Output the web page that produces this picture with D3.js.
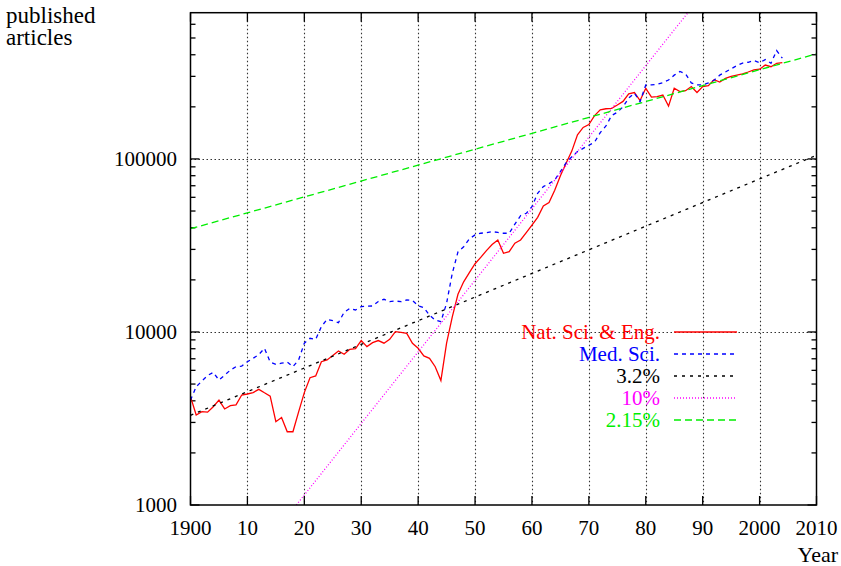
<!DOCTYPE html>
<html>
<head>
<meta charset="utf-8">
<script src="https://cdn.jsdelivr.net/npm/d3@7"></script>
<style>
  body { margin: 0; background: #fff; }
</style>
</head>
<body>
<div id="chart"></div>
<script>
// yearly counts
var years = d3.range(1900, 2005)
var natSci = [4230, 3310, 3460, 3440, 3700, 4040, 3590, 3750, 3790, 4320,
  4380, 4460, 4660, 4450, 4260, 3030, 3200, 2650, 2650, 3450,
  4460, 5440, 5570, 6730, 6890, 7300, 7770, 7430, 7940, 8010,
  8920, 8230, 8670, 8920, 8610, 9070, 10050, 9950, 9820, 8610,
  8050, 7270, 7040, 6300, 5240, 8610, 12240, 16500, 19500, 22000,
  24800, 27000, 29500, 32000, 34000, 28500, 29100, 32600, 34000, 37500,
  41500, 46000, 53500, 56000, 66000, 80000, 94500, 111000, 138000, 152000,
  158000, 178000, 192000, 195000, 196000, 205000, 215000, 238000, 242000, 217500,
  256000, 227500, 229000, 234000, 202000, 256000, 245000, 248000, 262000, 242000,
  262000, 265000, 287000, 278000, 292000, 300000, 305000, 310000, 318000, 327000,
  330000, 349000, 341000, 357000, 360000]
var medSci = [4040, 4830, 5200, 5600, 5840, 5280, 5630, 6020, 6300, 6350,
  6730, 7040, 7400, 8050, 6700, 6500, 6600, 6700, 6300, 6890,
  8610, 9190, 9070, 10740, 11840, 11620, 11320, 13000, 13700, 13400,
  14000, 14100, 14130, 15000, 15450, 14960, 15100, 14960, 15300, 15200,
  14200, 13800, 12500, 11720, 11470, 14660, 21830, 29000, 31100, 34500,
  36400, 37200, 37500, 38000, 37600, 37200, 37200, 42000, 47000, 48500,
  53000, 63300, 69200, 72000, 75600, 84500, 95000, 103000, 110200, 115000,
  120000, 125000, 142000, 155000, 178000, 186000, 200000, 225000, 240000, 214000,
  267800, 267800, 270000, 276000, 286000, 305000, 320000, 310000, 275000, 268000,
  268000, 275000, 285000, 305000, 318000, 332000, 346000, 358000, 362000, 370000,
  360000, 375000, 357000, 423000, 382000]

// growth reference lines, end points [year, count]
var trend32  = [[1900, 3300], [2010, 105000]]
var trend10  = [[1918.6, 1000], [1987.4, 700000]]
var trend215 = [[1900, 39500], [2010, 405000]]

var xTicks     = d3.range(1900, 2011, 10)
var xTickNames = ['1900', '10', '20', '30', '40', '50', '60', '70', '80', '90', '2000', '2010']
var yTicks     = [1000, 10000, 100000]
var yMinor     = [2000, 3000, 4000, 5000, 6000, 7000, 8000, 9000,
                  20000, 30000, 40000, 50000, 60000, 70000, 80000, 90000,
                  200000, 300000, 400000, 500000, 600000]

var legendNames  = ['Nat. Sci. & Eng.', 'Med. Sci.', '3.2%', '10%', '2.15%']
var legendColors = ['#ff0000', '#0000ff', '#000000', '#ff00ff', '#00ee00']
var legendDash   = [null, '4,4', '3,5', '1,2', '7,4']

var W = 841, H = 566
var pLeft = 190.5, pRight = 816.5, pTop = 12.7, pBottom = 505

var svg = d3.select('#chart').append('svg').attr('width', W).attr('height', H)

var x = d3.scaleLinear().domain([1900, 2010]).range([pLeft, pRight])
var y = d3.scaleLog().domain([1000, 700000]).range([pBottom, pTop])

// every text in the serif face
function label(sel, px) {
  return sel.style('font-family', 'Liberation Serif').style('font-size', px + 'px')
}

svg.append('clipPath').attr('id', 'clip')
  .append('rect').attr('x', pLeft).attr('y', pTop).attr('width', pRight - pLeft).attr('height', pBottom - pTop)

// grid
var grid = svg.append('g').attr('stroke', '#333').attr('stroke-width', 1.1).attr('stroke-dasharray', '1.5,2.5')
grid.selectAll('.gx').data(xTicks.slice(1, -1)).enter().append('line')
  .attr('x1', d => Math.round(x(d)) + 0.5).attr('x2', d => Math.round(x(d)) + 0.5)
  .attr('y1', pTop).attr('y2', pBottom)
grid.selectAll('.gy').data(yTicks.slice(1)).enter().append('line')
  .attr('x1', pLeft).attr('x2', pRight)
  .attr('y1', d => Math.round(y(d)) + 0.5).attr('y2', d => Math.round(y(d)) + 0.5)

// ticks on all four sides
var ticks = svg.append('g').attr('stroke', '#000').attr('stroke-width', 1.3)
xTicks.forEach(function(t) {
  ticks.append('line').attr('x1', x(t)).attr('x2', x(t)).attr('y1', pBottom).attr('y2', pBottom - 9)
  ticks.append('line').attr('x1', x(t)).attr('x2', x(t)).attr('y1', pTop).attr('y2', pTop + 9)
})
yTicks.forEach(function(t) {
  ticks.append('line').attr('x1', pLeft).attr('x2', pLeft + 9).attr('y1', y(t)).attr('y2', y(t))
  ticks.append('line').attr('x1', pRight).attr('x2', pRight - 9).attr('y1', y(t)).attr('y2', y(t))
})
yMinor.forEach(function(t) {
  ticks.append('line').attr('x1', pLeft).attr('x2', pLeft + 5).attr('y1', y(t)).attr('y2', y(t))
  ticks.append('line').attr('x1', pRight).attr('x2', pRight - 5).attr('y1', y(t)).attr('y2', y(t))
})

// tick labels
label(svg.append('g').selectAll('text').data(xTicks).enter().append('text')
  .attr('x', d => x(d)).attr('y', 535).attr('text-anchor', 'middle'), 21)
  .text((d, i) => xTickNames[i])
label(svg.append('g').selectAll('text').data(yTicks).enter().append('text')
  .attr('x', 177).attr('y', d => y(d) + 7).attr('text-anchor', 'end'), 21)
  .text(d => d)

label(svg.append('text').attr('x', 838).attr('y', 562).attr('text-anchor', 'end'), 22).text('Year')
label(svg.append('text').attr('x', 6).attr('y', 23), 23).text('published')
label(svg.append('text').attr('x', 6).attr('y', 45), 23).text('articles')

// curves
var plot = svg.append('g').attr('clip-path', 'url(#clip)').attr('fill', 'none')
var line = d3.line().x(d => x(d[0])).y(d => y(d[1]))

var series = [
  years.map((yr, i) => [yr, natSci[i]]),
  years.map((yr, i) => [yr, medSci[i]]),
  trend32, trend10, trend215
]
series.forEach(function(s, i) {
  plot.append('path').datum(s)
    .attr('d', line)
    .attr('stroke', legendColors[i])
    .attr('stroke-width', 1.3)
    .attr('stroke-dasharray', legendDash[i])
})

// frame
svg.append('rect').attr('x', pLeft).attr('y', pTop).attr('width', pRight - pLeft).attr('height', pBottom - pTop)
  .attr('fill', 'none').attr('stroke', '#000').attr('stroke-width', 1.5)

// legend
var legend = svg.append('g')
legendNames.forEach(function(name, i) {
  var ly = 332 + i * 22
  label(legend.append('text').attr('x', 660).attr('y', ly + 7).attr('text-anchor', 'end')
    .attr('fill', legendColors[i]), 21).text(name)
  legend.append('line').attr('x1', 674).attr('x2', 737).attr('y1', ly).attr('y2', ly)
    .attr('stroke', legendColors[i]).attr('stroke-width', 1.3)
    .attr('stroke-dasharray', legendDash[i])
})
</script>
</body>
</html>
